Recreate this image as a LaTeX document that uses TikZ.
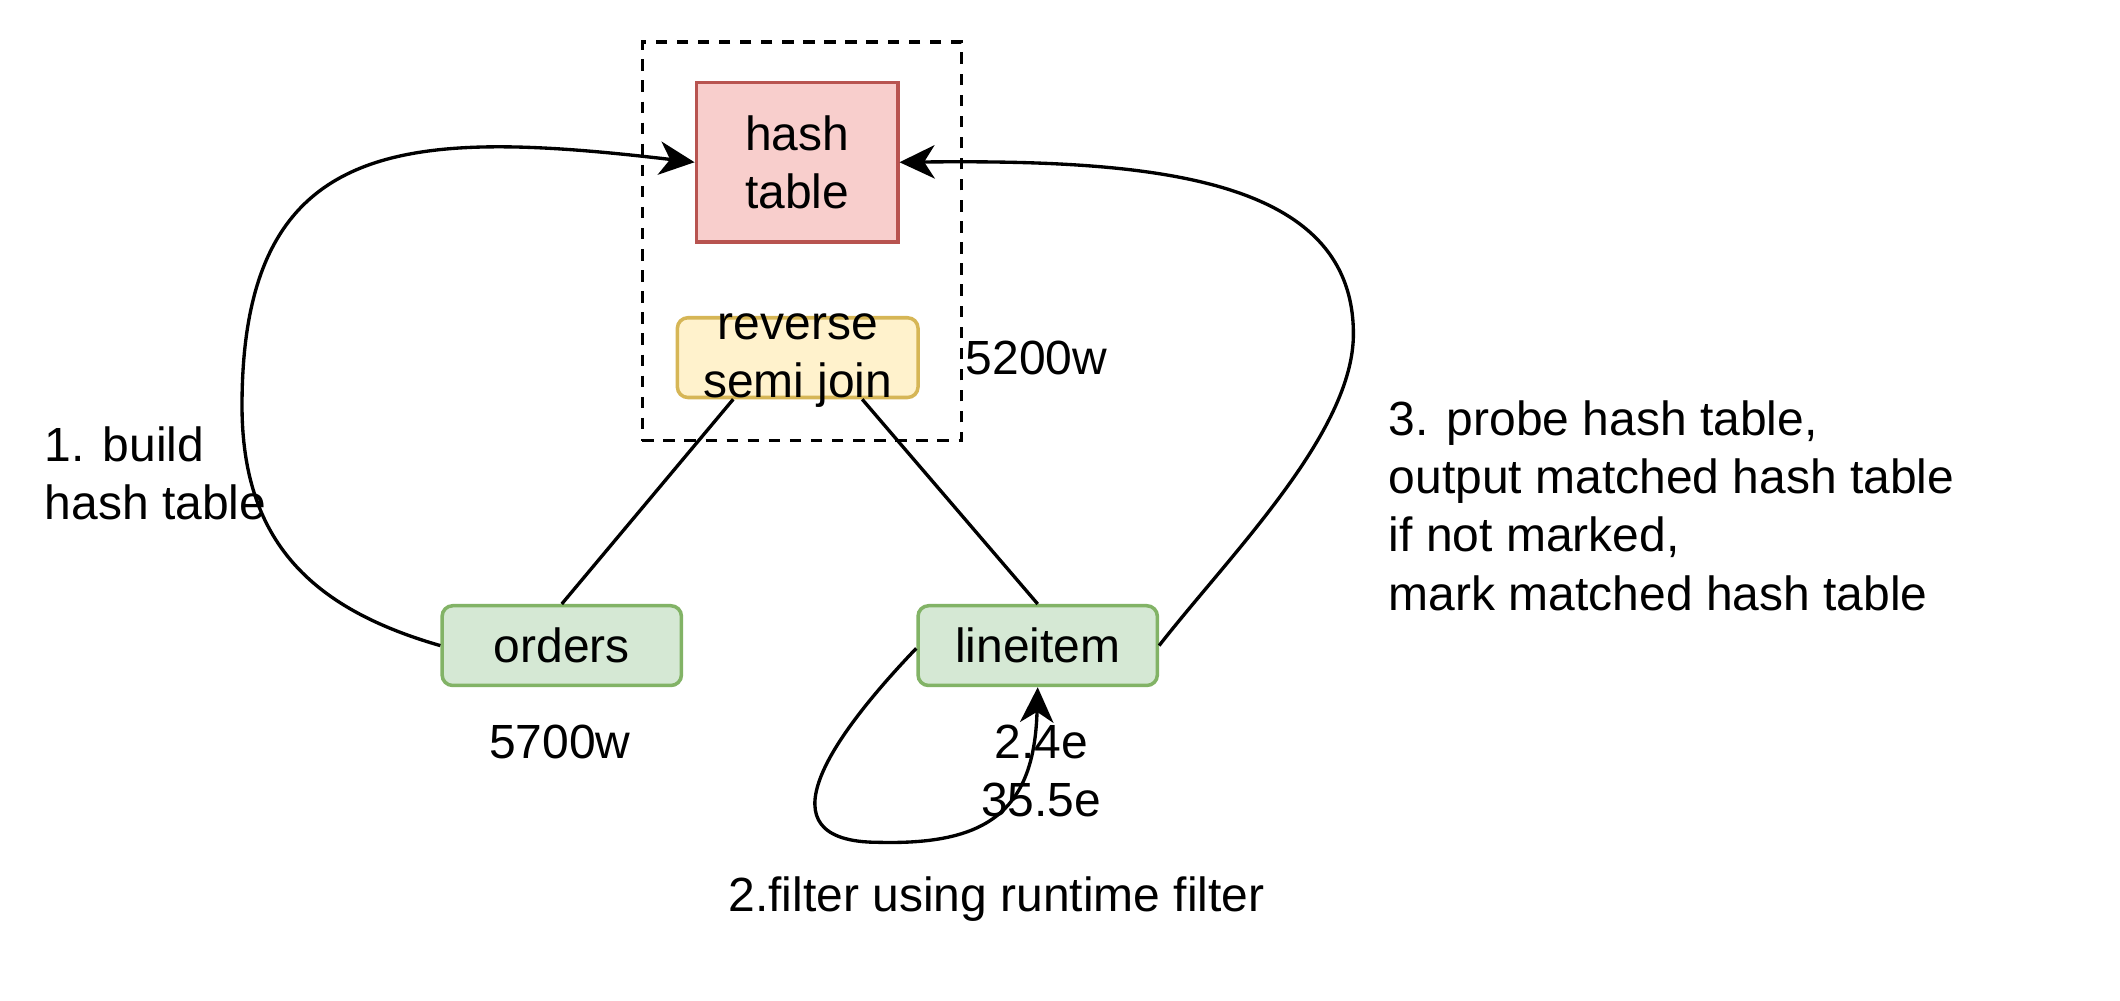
\documentclass[tikz,border=0pt]{standalone}
\usepackage{fontspec}
\setmainfont{Liberation Sans}
\usetikzlibrary{arrows.meta,calc}
\definecolor{htfill}{HTML}{F8CECC}
\definecolor{htdraw}{HTML}{B85450}
\definecolor{rsfill}{HTML}{FFF2CC}
\definecolor{rsdraw}{HTML}{D6B656}
\definecolor{grfill}{HTML}{D5E8D4}
\definecolor{grdraw}{HTML}{82B366}
\begin{document}
\begin{tikzpicture}[x=0.0270408cm, y=-0.0270408cm,
  every node/.style={font=\fontsize{27.3}{33.1}\selectfont},
  box/.style={draw, line width=2pt, inner sep=0pt},
  conn/.style={line width=1.9pt},
  arr/.style={conn, -{Stealth[length=20pt,width=19pt,inset=6pt]}},
  lbl/.style={inner sep=0pt}]
\useasboundingbox (0,0) rectangle (1568,740);

% group box
\node[draw, line width=1.9pt, dash pattern=on 6.5pt off 5.5pt, minimum width=6.381cm, minimum height=7.977cm, inner sep=0pt] (grp) at (593,178.5) {};

% nodes
\node[box, draw=htdraw, fill=htfill, minimum width=4.029cm, minimum height=3.191cm, align=center] (hash) at (589.5,120) {hash\\table};
\node[box, draw=rsdraw, fill=rsfill, rounded corners=6pt, minimum width=4.813cm, minimum height=1.595cm] (rsj) at (590,264.5) {};
\node[box, draw=grdraw, fill=grfill, rounded corners=6pt, minimum width=4.786cm, minimum height=1.595cm] (orders) at (415.5,477.5) {orders};
\node[box, draw=grdraw, fill=grfill, rounded corners=6pt, minimum width=4.786cm, minimum height=1.595cm] (lineitem) at (767.5,477.5) {lineitem};

% tree edges
\draw[conn] ($(rsj.south west)!0.236!(rsj.south east)$) -- (orders.north);
\draw[conn] ($(rsj.south west)!0.764!(rsj.south east)$) -- (lineitem.north);

\node[lbl, align=center] (rsjlabel) at ($(rsj.center)+(0,2)$) {reverse\\semi join};

% labels
\node[lbl, anchor=west] (l5200) at (714,265) {5200w};
\node[lbl, anchor=west, align=left] (lbuild) at (33,350) {1. build\\hash table};
\node[lbl] (l5700) at (414,549) {5700w};
\node[lbl, align=center] (lrows) at (770,570) {2.4e\\35.5e};
\node[lbl] (lfilter) at (737,665) {2.filter using runtime filter};
\node[lbl, anchor=west, align=left] (lprobe) at (1027,374) {3. probe hash table,\\output matched hash table\\if not marked,\\mark matched hash table};

% curves
\coordinate (m1) at (179,300);
\draw[arr] (orders.west) .. controls (230,450) and (179,400) .. (m1)
  .. controls (179,100) and (300,95) .. (hash.west);

\coordinate (m3) at (1001,247);
\draw[arr] (lineitem.east) .. controls (910,410) and (1001,320) .. (m3)
  .. controls (1001,130) and (850,118) .. (hash.east);

\coordinate (m2) at (650,623);
\draw[arr] ($(lineitem.west)+(0,2)$) .. controls (615,545) and (560,623) .. (m2)
  .. controls (730,625) and (765,600) .. (lineitem.south);
\end{tikzpicture}
\end{document}
